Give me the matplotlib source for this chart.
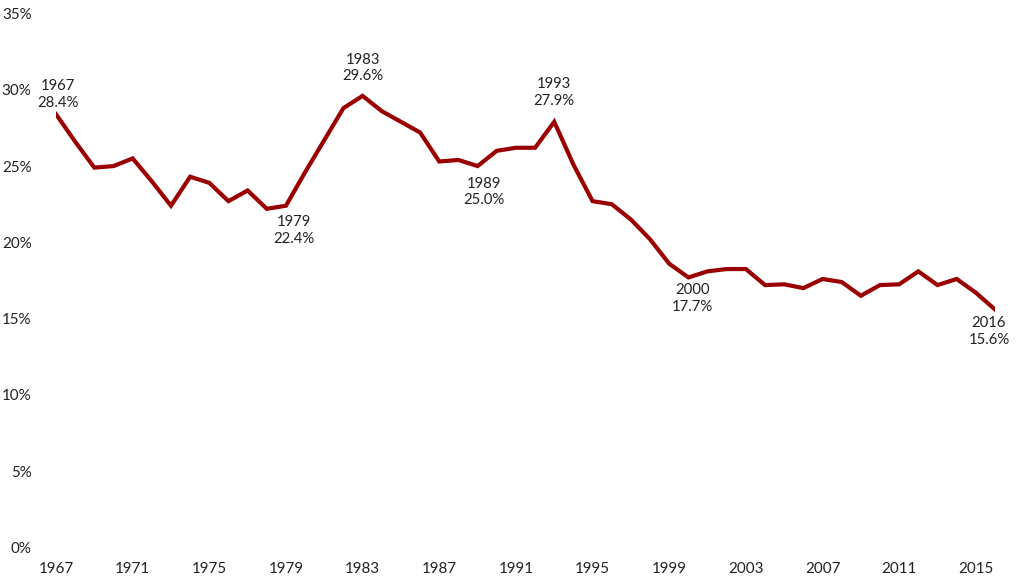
import matplotlib
matplotlib.use("Agg")
import matplotlib.pyplot as plt

years = list(range(1967, 2017))
values = [28.4, 26.6, 24.9, 25.0, 25.5, 24.0, 22.4, 24.3, 23.9, 22.7,
          23.4, 22.2, 22.4, 24.6, 26.7, 28.8, 29.6, 28.6, 27.9, 27.2,
          25.3, 25.4, 25.0, 26.0, 26.2, 26.2, 27.9, 25.1, 22.7, 22.5,
          21.5, 20.2, 18.6, 17.7, 18.1, 18.25, 18.25, 17.2, 17.25, 17.0,
          17.6, 17.4, 16.5, 17.2, 17.25, 18.1, 17.2, 17.6, 16.7, 15.6]

x_ticks = list(range(1967, 2016, 4))
y_ticks = [0, 5, 10, 15, 20, 25, 30, 35]
y_tick_labels = ["0%", "5%", "10%", "15%", "20%", "25%", "30%", "35%"]

annot_years = [1967, 1979, 1983, 1989, 1993, 2000, 2016]
annot_labels = ["1967\n28.4%", "1979\n22.4%", "1983\n29.6%", "1989\n25.0%",
                "1993\n27.9%", "2000\n17.7%", "2016\n15.6%"]
annot_offsets = [(2, 20), (8, -25), (0, 28), (6, -26), (0, 29), (4, -21), (-6, -22)]

plt.rcParams['font.family'] = ['Lato', 'DejaVu Sans']
text_color = '#222222'
line_color = '#9B0000'

W, H, dpi = 1024, 577, 100
fig = plt.figure(figsize=(W / dpi, H / dpi), dpi=dpi)
ax = fig.add_axes([56 / W, 1 - 547.5 / H, (995 - 56) / W, (547.5 - 13.5) / H])

ax.plot(years, values, color=line_color, linewidth=3.0, solid_joinstyle='miter')

ax.set_xlim(1967, 2016)
ax.set_ylim(0, 35)
ax.set_xticks(x_ticks)
ax.set_xticklabels([str(y) for y in x_ticks])
ax.set_yticks(y_ticks)
ax.set_yticklabels(y_tick_labels)

for s in ax.spines.values():
    s.set_visible(False)

ax.tick_params(axis='both', length=0, labelsize=10.9, labelcolor=text_color)
ax.tick_params(axis='x', pad=10.5)
ax.tick_params(axis='y', pad=17.6)

for yr, lab, (dx, dy) in zip(annot_years, annot_labels, annot_offsets):
    val = values[years.index(yr)]
    ax.annotate(lab, xy=(yr, val), xytext=(dx, dy), textcoords='offset pixels',
                ha='center', va='center', fontsize=10.7, color=text_color,
                linespacing=1.25, annotation_clip=False)

fig.savefig("out.png", dpi=dpi)
